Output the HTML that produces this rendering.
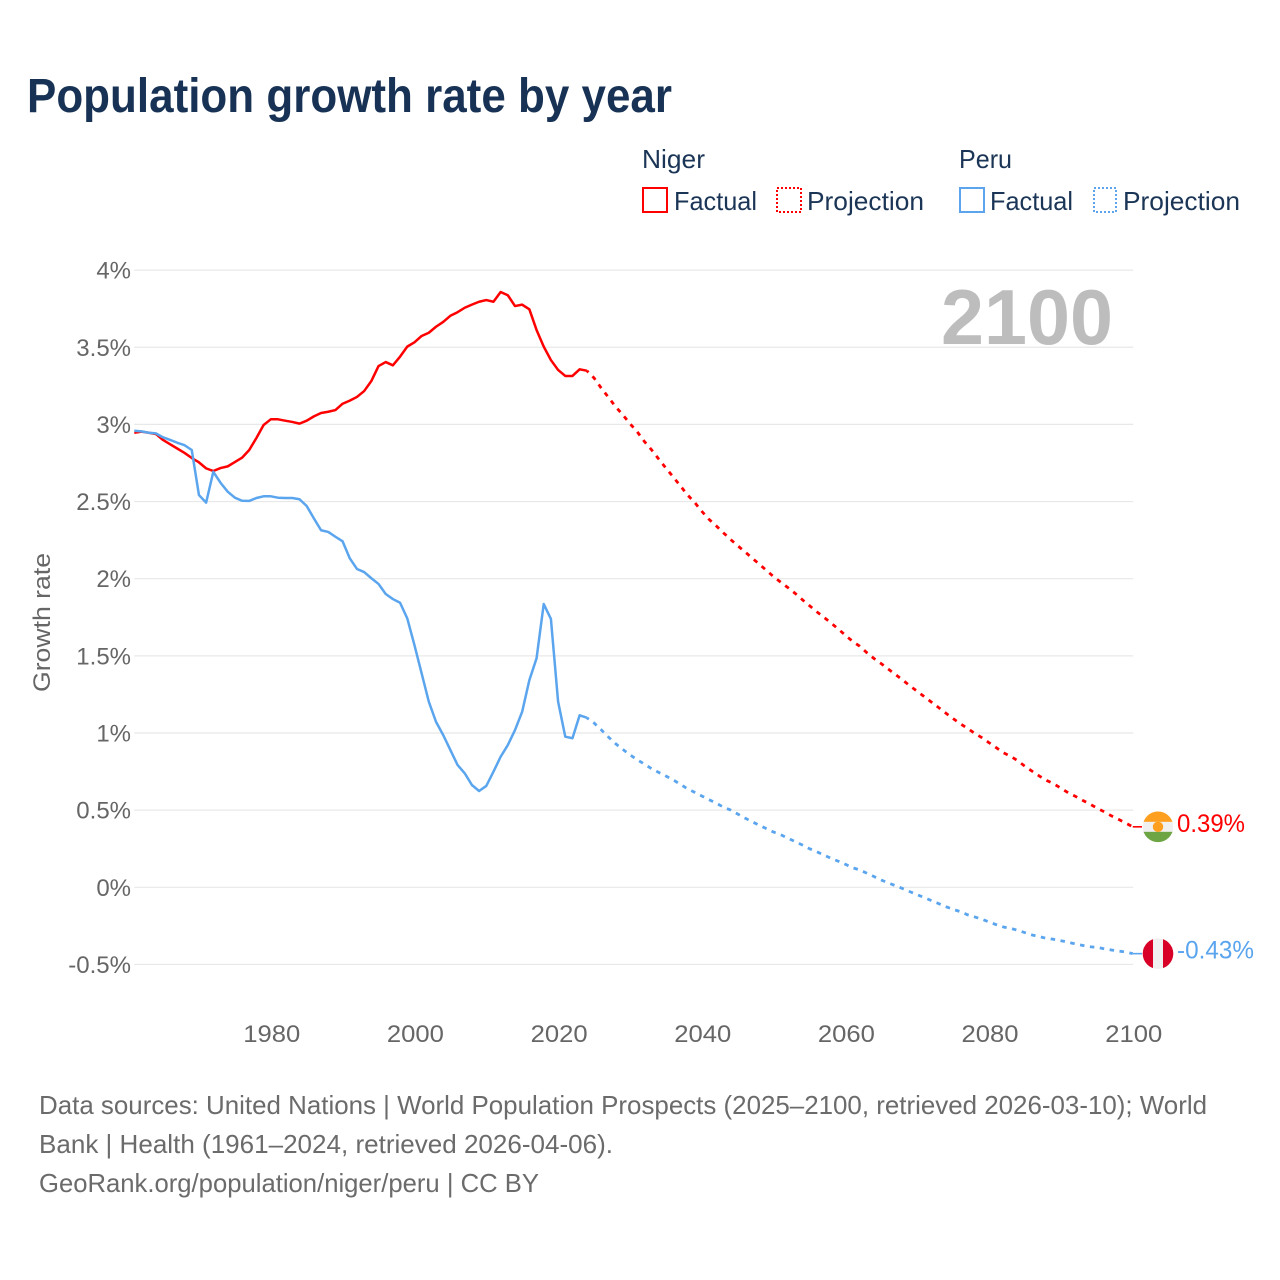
<!DOCTYPE html>
<html lang="en">
<head>
<meta charset="utf-8">
<title>Population growth rate by year</title>
<style>
html,body{margin:0;padding:0;background:#fff;}
svg{display:block;font-family:"Liberation Sans",sans-serif;}
</style>
</head>
<body>
<svg id="chart" xmlns="http://www.w3.org/2000/svg" width="1280" height="1280" viewBox="0 0 1280 1280">
  <rect x="0" y="0" width="1280" height="1280" fill="#ffffff"/>
  <text x="27" y="112" font-size="48" font-weight="700" fill="#173254" textLength="645" lengthAdjust="spacingAndGlyphs">Population growth rate by year</text>

  <g font-size="26" fill="#1b3556">
    <text x="642" y="168" textLength="63" lengthAdjust="spacingAndGlyphs">Niger</text>
    <text x="959" y="168" textLength="53" lengthAdjust="spacingAndGlyphs">Peru</text>
    <rect x="643" y="188" width="24" height="24" fill="none" stroke="#ff0000" stroke-width="2"/>
    <text x="674" y="210" textLength="83" lengthAdjust="spacingAndGlyphs">Factual</text>
    <rect x="777" y="188" width="24" height="24" fill="none" stroke="#ff0000" stroke-width="2" stroke-dasharray="2 2"/>
    <text x="807" y="210" textLength="117" lengthAdjust="spacingAndGlyphs">Projection</text>
    <rect x="960" y="188" width="24" height="24" fill="none" stroke="#5aa5ee" stroke-width="2"/>
    <text x="990" y="210" textLength="83" lengthAdjust="spacingAndGlyphs">Factual</text>
    <rect x="1094" y="188" width="22" height="24" fill="none" stroke="#5aa5ee" stroke-width="2" stroke-dasharray="2 2"/>
    <text x="1123" y="210" textLength="117" lengthAdjust="spacingAndGlyphs">Projection</text>
  </g>

  <g id="grid"></g>
  <text x="941" y="344" font-size="78" font-weight="700" fill="#bdbdbd" textLength="172" lengthAdjust="spacingAndGlyphs">2100</text>
  <g id="yticks"></g>
  <g id="xticks"></g>
  <text x="0" y="0" transform="translate(50 692) rotate(-90)" font-size="24" fill="#666666" textLength="139" lengthAdjust="spacingAndGlyphs">Growth rate</text>
  <g id="series"></g>
  <g id="ends"></g>

  <g font-size="26" fill="#6b6b6b">
    <text x="39" y="1114" textLength="1168" lengthAdjust="spacingAndGlyphs">Data sources: United Nations | World Population Prospects (2025–2100, retrieved 2026-03-10); World</text>
    <text x="39" y="1153" textLength="574" lengthAdjust="spacingAndGlyphs">Bank | Health (1961–2024, retrieved 2026-04-06).</text>
    <text x="39" y="1192" textLength="500" lengthAdjust="spacingAndGlyphs">GeoRank.org/population/niger/peru | CC BY</text>
  </g>
</svg>
<script>
const yTicks = [4, 3.5, 3, 2.5, 2, 1.5, 1, 0.5, 0, -0.5];
const yTickLabels = ['4%', '3.5%', '3%', '2.5%', '2%', '1.5%', '1%', '0.5%', '0%', '-0.5%'];
const xTicks = [1980, 2000, 2020, 2040, 2060, 2080, 2100];
const xTickLabels = ['1980', '2000', '2020', '2040', '2060', '2080', '2100'];
const factualStartYear = 1961;
const projectionStartYear = 2025;
const endLabelNiger = '0.39%';
const endLabelPeru = '-0.43%';

const nigerFactual = [
  2.946,2.953,2.946,2.938,2.899,2.871,2.843,2.815,2.782,2.754,
  2.715,2.698,2.717,2.728,2.756,2.784,2.834,2.912,2.996,3.033,
  3.033,3.024,3.016,3.005,3.024,3.052,3.074,3.082,3.093,3.134,
  3.154,3.178,3.216,3.281,3.378,3.404,3.383,3.439,3.504,3.532,
  3.573,3.594,3.633,3.664,3.704,3.727,3.756,3.776,3.795,3.806,
  3.795,3.858,3.837,3.767,3.776,3.746,3.612,3.504,3.417,3.353,
  3.314,3.314,3.357,3.348
];
const nigerProjection = [
  3.301,3.236,3.176,3.115,3.063,3.005,2.953,2.890,2.836,2.776,
  2.717,2.661,2.603,2.544,2.495,2.437,2.385,2.343,2.298,2.255,
  2.214,2.175,2.134,2.095,2.054,2.013,1.977,1.942,1.905,1.864,
  1.825,1.786,1.750,1.713,1.674,1.633,1.594,1.562,1.520,1.482,
  1.449,1.413,1.378,1.342,1.305,1.270,1.235,1.199,1.164,1.128,
  1.093,1.060,1.030,0.998,0.970,0.937,0.905,0.872,0.849,0.820,
  0.784,0.752,0.721,0.693,0.671,0.642,0.613,0.590,0.564,0.540,
  0.514,0.490,0.464,0.441,0.417,0.392
];
const peruFactual = [
  2.959,2.955,2.946,2.942,2.916,2.899,2.881,2.865,2.834,2.542,
  2.493,2.693,2.622,2.564,2.525,2.505,2.504,2.523,2.534,2.534,
  2.525,2.523,2.523,2.515,2.471,2.391,2.314,2.303,2.272,2.242,
  2.132,2.063,2.043,2.003,1.966,1.901,1.868,1.844,1.743,1.570,
  1.387,1.203,1.073,0.987,0.890,0.793,0.739,0.663,0.624,0.657,
  0.749,0.846,0.922,1.019,1.138,1.343,1.484,1.836,1.739,1.203,
  0.976,0.966,1.115,1.099
];
const peruProjection = [
  1.065,1.021,0.974,0.931,0.894,0.859,0.827,0.799,0.769,0.745,
  0.721,0.697,0.668,0.639,0.616,0.592,0.568,0.546,0.520,0.501,
  0.475,0.449,0.425,0.402,0.380,0.358,0.341,0.318,0.296,0.274,
  0.250,0.231,0.209,0.188,0.169,0.149,0.127,0.112,0.091,0.069,
  0.047,0.028,0.010,-0.009,-0.029,-0.048,-0.067,-0.087,-0.106,-0.126,
  -0.143,-0.158,-0.178,-0.192,-0.207,-0.225,-0.242,-0.257,-0.266,-0.279,
  -0.294,-0.309,-0.320,-0.331,-0.337,-0.346,-0.356,-0.367,-0.376,-0.385,
  -0.389,-0.398,-0.406,-0.413,-0.419,-0.430
];

const NS = 'http://www.w3.org/2000/svg';
const RED = '#ff0000';
const BLUE = '#5aa5ee';
function xScale(year) { return 134.3 + (year - 1961) * 7.183; }
function yScale(value) { return 887.3 - value * 154.3; }
function make(tag, attrs, parent) {
  const el = document.createElementNS(NS, tag);
  for (const k in attrs) el.setAttribute(k, attrs[k]);
  parent.appendChild(el);
  return el;
}
function pathFrom(startYear, values, seed) {
  const pts = values.map(function (v, i) {
    return xScale(startYear + i).toFixed(2) + ',' + yScale(v).toFixed(2);
  });
  if (seed) pts.unshift(xScale(seed[0]).toFixed(2) + ',' + yScale(seed[1]).toFixed(2));
  return 'M' + pts.join('L');
}

const grid = document.getElementById('grid');
const yTickGroup = document.getElementById('yticks');
const xTickGroup = document.getElementById('xticks');
const seriesGroup = document.getElementById('series');
const endsGroup = document.getElementById('ends');

yTicks.forEach(function (t, i) {
  const line = make('line', {x1: xScale(1961), x2: xScale(2100) + 0.5, y1: yScale(t), y2: yScale(t), stroke: '#e8e8e8', 'stroke-width': 1.2}, grid);
  
  
  const label = make('text', {x: 131, y: yScale(t) + 8.5, 'text-anchor': 'end', 'font-size': 24, fill: '#666666'}, yTickGroup);
  label.textContent = yTickLabels[i];
  
  
});

xTicks.forEach(function (t, i) {
  const label = make('text', {x: xScale(t) - 27.5, y: 1042, 'font-size': 24, fill: '#666666', textLength: 57, lengthAdjust: 'spacingAndGlyphs'}, xTickGroup);
  label.textContent = xTickLabels[i];
  
  
});

const lastFactualYear = projectionStartYear - 1;

const nigerLine = make('path', {d: pathFrom(factualStartYear, nigerFactual), fill: 'none', stroke: RED, 'stroke-width': 2.5, 'stroke-linejoin': 'round'}, seriesGroup);



const nigerDash = make('path', {d: pathFrom(projectionStartYear, nigerProjection, [lastFactualYear, nigerFactual[nigerFactual.length - 1]]), fill: 'none', stroke: RED, 'stroke-width': 2.8, 'stroke-dasharray': '4.5 5.7', 'stroke-dashoffset': -8}, seriesGroup);



const peruLine = make('path', {d: pathFrom(factualStartYear, peruFactual), fill: 'none', stroke: BLUE, 'stroke-width': 2.5, 'stroke-linejoin': 'round'}, seriesGroup);



const peruDash = make('path', {d: pathFrom(projectionStartYear, peruProjection, [lastFactualYear, peruFactual[peruFactual.length - 1]]), fill: 'none', stroke: BLUE, 'stroke-width': 2.8, 'stroke-dasharray': '4.5 5.5', 'stroke-dashoffset': -8}, seriesGroup);



const endYear = projectionStartYear + nigerProjection.length - 1;
const flagX = 1158;
const nigerEndY = yScale(nigerProjection[nigerProjection.length - 1]);
const peruEndY = yScale(peruProjection[peruProjection.length - 1]);

const nigerLead = make('line', {x1: xScale(endYear), x2: 1142, y1: nigerEndY, y2: nigerEndY, stroke: RED, 'stroke-width': 1.6}, endsGroup);



const peruLead = make('line', {x1: xScale(endYear), x2: 1142, y1: peruEndY, y2: peruEndY, stroke: BLUE, 'stroke-width': 1.6}, endsGroup);



const clipDefs = make('defs', {}, endsGroup);
const clipN = make('clipPath', {id: 'clip-niger'}, clipDefs);
make('circle', {cx: flagX, cy: nigerEndY, r: 15.3}, clipN);
const clipP = make('clipPath', {id: 'clip-peru'}, clipDefs);
make('circle', {cx: flagX, cy: peruEndY, r: 15.3}, clipP);

const nigerFlag = make('g', {'clip-path': 'url(#clip-niger)'}, endsGroup);


make('rect', {x: flagX - 16, y: nigerEndY - 16, width: 32, height: 32, fill: '#f0f0f0'}, nigerFlag);
make('rect', {x: flagX - 16, y: nigerEndY - 16, width: 32, height: 11, fill: '#ff9f1f'}, nigerFlag);
make('rect', {x: flagX - 16, y: nigerEndY + 5, width: 32, height: 11, fill: '#6da544'}, nigerFlag);
make('circle', {cx: flagX, cy: nigerEndY, r: 5.2, fill: '#ff9f1f'}, nigerFlag);

const peruFlag = make('g', {'clip-path': 'url(#clip-peru)'}, endsGroup);


make('rect', {x: flagX - 16, y: peruEndY - 16, width: 32, height: 32, fill: '#f0f0f0'}, peruFlag);
make('rect', {x: flagX - 16, y: peruEndY - 16, width: 11, height: 32, fill: '#d80027'}, peruFlag);
make('rect', {x: flagX + 5, y: peruEndY - 16, width: 11, height: 32, fill: '#d80027'}, peruFlag);

const nigerValue = make('text', {x: 1177, y: nigerEndY + 5, 'font-size': 25, fill: RED, textLength: 68, lengthAdjust: 'spacingAndGlyphs'}, endsGroup);
nigerValue.textContent = endLabelNiger;



const peruValue = make('text', {x: 1177, y: peruEndY + 5, 'font-size': 25, fill: BLUE, textLength: 77, lengthAdjust: 'spacingAndGlyphs'}, endsGroup);
peruValue.textContent = endLabelPeru;


</script>
</body>
</html>
